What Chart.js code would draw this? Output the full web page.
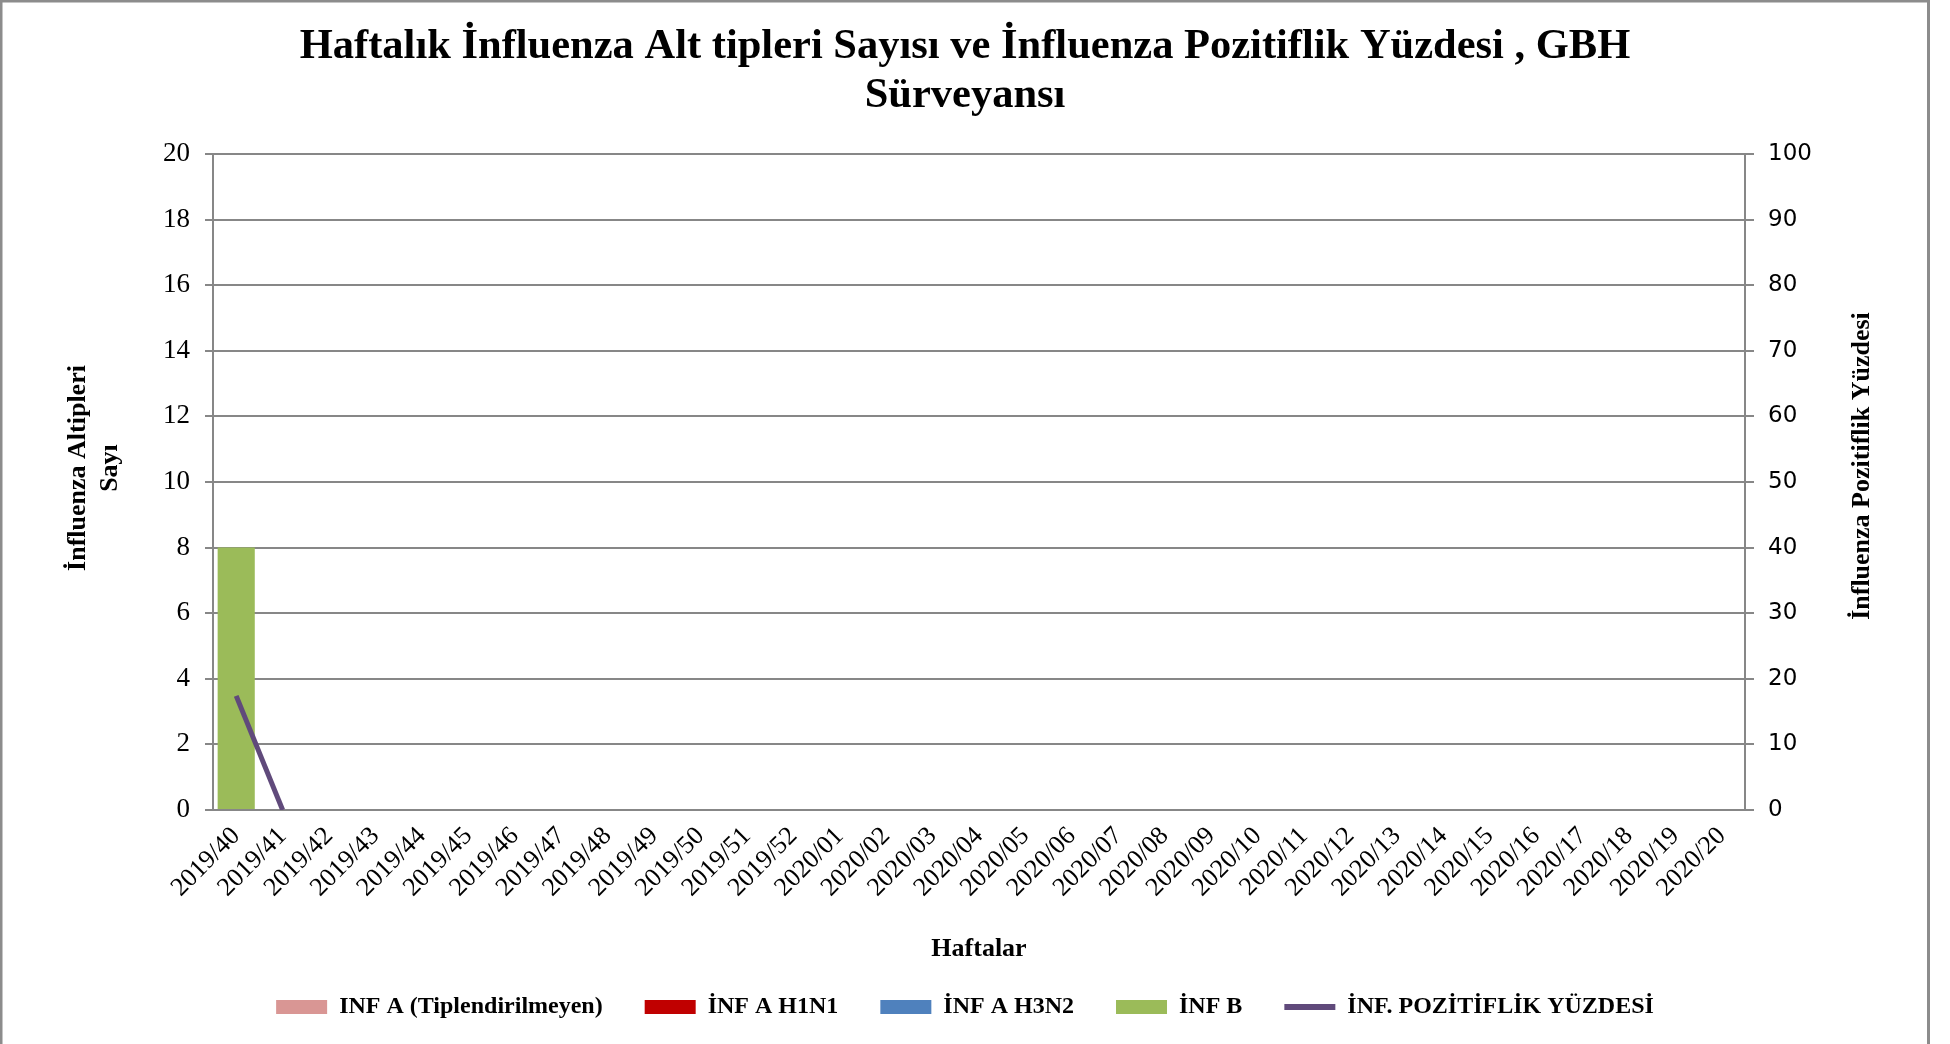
<!DOCTYPE html>
<html>
<head>
<meta charset="utf-8">
<script src="https://cdn.jsdelivr.net/npm/chart.js@4/dist/chart.umd.min.js"></script>
<style>
  html, body { margin: 0; padding: 0; background: #fff; }
  canvas { display: block; }
</style>
</head>
<body>
<canvas id="c" width="1950" height="1044"></canvas>
<script>
// weeks on the category axis
const weeks = [
  '2019/40', '2019/41', '2019/42', '2019/43', '2019/44', '2019/45', '2019/46',
  '2019/47', '2019/48', '2019/49', '2019/50', '2019/51', '2019/52',
  '2020/01', '2020/02', '2020/03', '2020/04', '2020/05', '2020/06', '2020/07',
  '2020/08', '2020/09', '2020/10', '2020/11', '2020/12', '2020/13', '2020/14',
  '2020/15', '2020/16', '2020/17', '2020/18', '2020/19', '2020/20'
];

// subtype counts (left axis)
const infAUntyped = [0, 0, null, null, null, null, null, null, null, null, null, null, null, null, null, null, null,
  null, null, null, null, null, null, null, null, null, null, null, null, null, null, null, null];
const infAH1N1 = [0, 0, null, null, null, null, null, null, null, null, null, null, null, null, null, null, null,
  null, null, null, null, null, null, null, null, null, null, null, null, null, null, null, null];
const infAH3N2 = [0, 0, null, null, null, null, null, null, null, null, null, null, null, null, null, null, null,
  null, null, null, null, null, null, null, null, null, null, null, null, null, null, null, null];
const infB = [8, 0, null, null, null, null, null, null, null, null, null, null, null, null, null, null, null,
  null, null, null, null, null, null, null, null, null, null, null, null, null, null, null, null];

// positivity percent (right axis)
const positivity = [17.4, 0, null, null, null, null, null, null, null, null, null, null, null, null, null, null, null,
  null, null, null, null, null, null, null, null, null, null, null, null, null, null, null, null];

const leftTicks = [0, 2, 4, 6, 8, 10, 12, 14, 16, 18, 20];
const rightTicks = [0, 10, 20, 30, 40, 50, 60, 70, 80, 90, 100];

const titleLines = ['Haftalık İnfluenza Alt tipleri Sayısı ve İnfluenza Pozitiflik Yüzdesi , GBH', 'Sürveyansı'];
const leftTitle = ['İnfluenza Altipleri', 'Sayı'];
const rightTitleText = 'İnfluenza Pozitiflik Yüzdesi';

const SERIF = "'Liberation Serif', 'Times New Roman', serif";
const GRID = '#878787';

Chart.defaults.font.family = SERIF;
Chart.defaults.color = '#000';

// grey frame round the whole chart
const frame = {
  id: 'frame',
  beforeDraw(chart) {
    const ctx = chart.ctx;
    ctx.save();
    ctx.fillStyle = '#fff';
    ctx.fillRect(0, 0, chart.width, chart.height);
    ctx.strokeStyle = '#8c8c8c';
    ctx.lineWidth = 3;
    ctx.strokeRect(1, 1, chart.width - 22.5, chart.height + 10);
    ctx.restore();
  }
};

// both y titles read bottom-to-top and sit a bit above the middle, drawn by hand
const axisTitles = {
  id: 'axisTitles',
  afterDraw(chart) {
    const ctx = chart.ctx;
    const y = chart.scales.y, y1 = chart.scales.y1;
    const mid = (y.top + y.bottom) / 2 - 14;
    ctx.save();
    ctx.font = 'bold 26px ' + SERIF;
    ctx.fillStyle = '#000';
    ctx.textAlign = 'center';
    ctx.textBaseline = 'middle';

    ctx.save();
    ctx.translate(y.left + 78, mid);
    ctx.rotate(-Math.PI / 2);
    leftTitle.forEach((t, i) => ctx.fillText(t, 0, i * 32));
    ctx.restore();

    ctx.save();
    ctx.translate(y1.left + 117, mid - 2);
    ctx.rotate(-Math.PI / 2);
    ctx.fillText(rightTitleText, 0, 0);
    ctx.restore();

    ctx.restore();
  }
};

new Chart(document.getElementById('c'), {
  type: 'bar',
  data: {
    labels: weeks,
    datasets: [
      { label: 'INF A (Tiplendirilmeyen)', data: infAUntyped, backgroundColor: '#D99694', stack: 'flu', pointStyle: 'rect' },
      { label: 'İNF A H1N1', data: infAH1N1, backgroundColor: '#C00000', stack: 'flu', pointStyle: 'rect' },
      { label: 'İNF A H3N2', data: infAH3N2, backgroundColor: '#4F81BD', stack: 'flu', pointStyle: 'rect' },
      { label: 'İNF B', data: infB, backgroundColor: '#9BBB59', stack: 'flu', pointStyle: 'rect' },
      {
        type: 'line', label: 'İNF. POZİTİFLİK YÜZDESİ', data: positivity, yAxisID: 'y1',
        borderColor: '#604A7B', backgroundColor: '#604A7B', borderWidth: 5,
        pointRadius: 0, pointStyle: 'line', tension: 0, order: -1
      }
    ]
  },
  options: {
    responsive: false,
    animation: false,
    devicePixelRatio: 1,
    layout: { padding: { left: 0, right: 20, top: 0, bottom: 15 } },
    datasets: { bar: { categoryPercentage: 1, barPercentage: 0.8, borderWidth: 0 } },
    plugins: {
      title: {
        display: true, text: titleLines, color: '#000',
        font: { size: 42.5, weight: 'bold', lineHeight: 1.153 },
        padding: { top: 22.5, bottom: 33.5 }
      },
      legend: {
        position: 'bottom',
        labels: {
          usePointStyle: true, pointStyleWidth: 51, boxHeight: 14, padding: 42,
          color: '#000', font: { size: 24, weight: 'bold' },
          sort: (a, b) => a.datasetIndex - b.datasetIndex,
          generateLabels(chart) {
            const items = Chart.defaults.plugins.legend.labels.generateLabels(chart);
            items.forEach(it => { if (it.pointStyle === 'line') it.lineWidth = 6; });
            return items;
          }
        }
      },
      tooltip: { enabled: false }
    },
    scales: {
      x: {
        stacked: true,
        grid: { display: false },
        border: { display: true, color: GRID, width: 2 },
        ticks: { autoSkip: false, maxRotation: 45, minRotation: 45, color: '#000', font: { size: 26 } },
        title: { display: true, text: 'Haftalar', color: '#000', font: { size: 26, weight: 'bold' }, padding: { top: 0, bottom: -11.6 } },
        afterFit(s) { s.height = 143; }
      },
      y: {
        stacked: true, position: 'left', min: 0, max: 20,
        afterBuildTicks(s) { s.ticks = leftTicks.map(v => ({ value: v })); },
        ticks: { padding: 15, color: '#000', font: { size: 27 } },
        grid: { color: GRID, lineWidth: 2, tickLength: 8 },
        border: { color: GRID, width: 2 },
        afterFit(s) { s.width = 213; }
      },
      y1: {
        position: 'right', min: 0, max: 100,
        afterBuildTicks(s) { s.ticks = rightTicks.map(v => ({ value: v })); },
        ticks: { padding: 14, color: '#000', font: { family: "'DejaVu Sans', sans-serif", size: 23 } },
        grid: { drawOnChartArea: false, color: GRID, lineWidth: 2, tickLength: 9 },
        border: { color: GRID, width: 2 },
        afterFit(s) { s.width = 185; }
      }
    }
  },
  plugins: [frame, axisTitles]
});
</script>
</body>
</html>
